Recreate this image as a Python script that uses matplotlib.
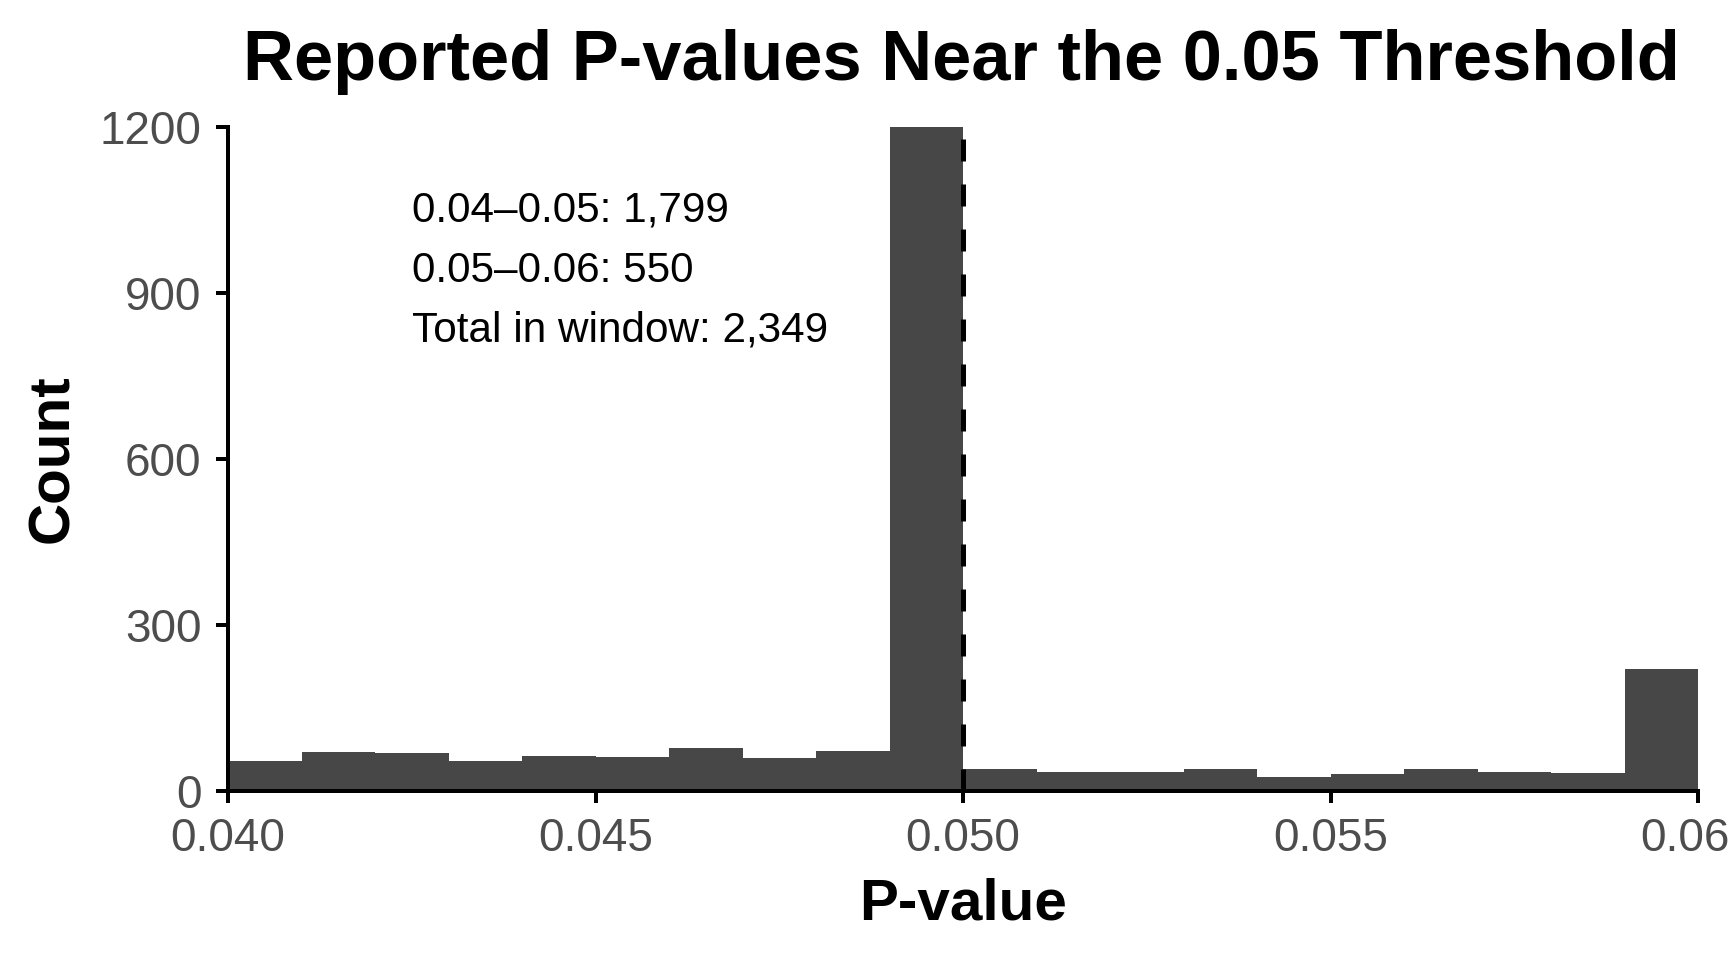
import matplotlib
matplotlib.use("Agg")
import matplotlib.pyplot as plt
import numpy as np

plt.rcParams['font.family'] = ['Liberation Sans', 'DejaVu Sans']

# Data
bin_edges = [round(0.040 + 0.001 * i, 3) for i in range(21)]
counts = [55, 70, 69, 54, 64, 61, 77, 59, 73, 1204,
          40, 35, 34, 39, 26, 30, 39, 34, 32, 220]
threshold = 0.05
x_ticks = [0.040, 0.045, 0.050, 0.055, 0.060]
y_ticks = [0, 300, 600, 900, 1200]
annot_lines = ["0.04\u20130.05: 1,799", "0.05\u20130.06: 550", "Total in window: 2,349"]

W, H = 1728, 960
fig = plt.figure(figsize=(W / 200, H / 200), dpi=200)
ax = fig.add_axes([228 / W, 1 - 791 / H, 1470 / W, 664.3 / H])

ax.stairs(counts, bin_edges, fill=True, color='#474747', linewidth=0)
ax.axvline(threshold, color='black', linewidth=1.8, linestyle=(0, (4.4, 4.6)))

ax.set_xlim(bin_edges[0], bin_edges[-1])
ax.set_ylim(0, 1200)
ax.set_xticks(x_ticks)
ax.set_xticklabels([f"{t:.3f}" for t in x_ticks])
ax.set_yticks(y_ticks)
ax.set_yticklabels([str(t) for t in y_ticks])

for s in ['top', 'right']:
    ax.spines[s].set_visible(False)
for s in ['left', 'bottom']:
    ax.spines[s].set_linewidth(1.44)
    ax.spines[s].set_color('black')
ax.tick_params(axis='both', length=4.3, width=1.44, color='black',
               labelsize=16.5, labelcolor='#4D4D4D', pad=5.2)

ax.set_xlabel('P-value', fontsize=21, fontweight='bold', va='baseline')
ax.xaxis.set_label_coords(0.5, -(920 - 791) / 664.3)
ax.set_ylabel('Count', fontsize=21, fontweight='bold', va='baseline')
ax.yaxis.set_label_coords(-(228 - 68) / 1470, 0.5)

fig.text(961.5 / W, 1 - 80 / H, 'Reported P-values Near the 0.05 Threshold',
         ha='center', va='baseline', fontsize=25.4, fontweight='bold', color='black')

base_y = [221.5, 282, 341.6]
for line, by in zip(annot_lines, base_y):
    ax.text((412 - 228) / 1470, (791 - by) / 664.3, line, transform=ax.transAxes,
            ha='left', va='baseline', fontsize=15.2, color='black')

fig.savefig('out.png', dpi=200)
